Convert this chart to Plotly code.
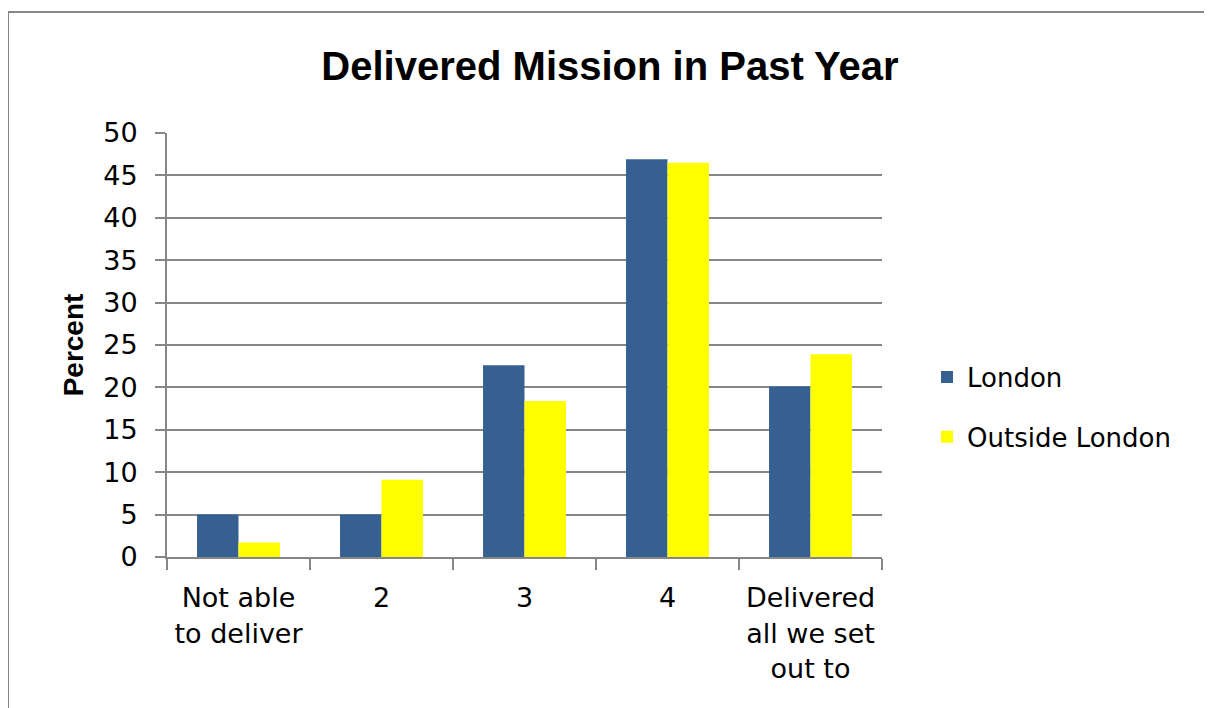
import plotly.graph_objects as go

categories = ["Not able<br>to deliver", "2", "3", "4", "Delivered<br>all we set<br>out to"]
london = [5.0, 5.0, 22.6, 46.9, 20.1]
outside_london = [1.7, 9.1, 18.4, 46.5, 23.9]
y_ticks = [0, 5, 10, 15, 20, 25, 30, 35, 40, 45, 50]

GRID = "#868686"
TICK_FONT = dict(family="DejaVu Sans", size=27, color="#000000")

fig = go.Figure()
fig.add_trace(go.Bar(name="London", x=categories, y=london,
                     marker=dict(color="#376092", line=dict(width=0)),
                     legendgroup="a"))
fig.add_trace(go.Bar(name="Outside London", x=categories, y=outside_london,
                     marker=dict(color="#FFFF00", line=dict(width=0)),
                     legendgroup="b"))

# page body adds an 8px offset, so positions are in figure coordinates
OFF = 8
PL, PR, PT, PB = 167 - OFF, 882 - OFF, 133 - OFF, 557 - OFF
W, H = 1212, 708

def px_x(p):
    return (p - OFF - PL) / (PR - PL)

def px_y(p):
    return (PB - (p - OFF)) / (PB - PT)

fig.update_layout(
    width=W, height=H, autosize=False,
    margin=dict(l=PL, r=W - PR, t=PT, b=H - PB, pad=0),
    paper_bgcolor="white", plot_bgcolor="white",
    barmode="group", bargap=0.42, bargroupgap=0,
    title=dict(text="<b>Delivered Mission in Past Year</b>",
               font=dict(family="Liberation Sans", size=40, color="#000000"),
               x=(610 - OFF) / W, xref="container", xanchor="center",
               y=1 - (66 - OFF) / H, yref="container", yanchor="middle"),
    legend=dict(x=px_x(927), y=px_y(407), xanchor="left", yanchor="middle",
                font=dict(family="DejaVu Sans", size=26, color="#000000"),
                tracegroupgap=23, traceorder="grouped",
                bgcolor="rgba(0,0,0,0)", borderwidth=0),
    xaxis=dict(type="category", tickson="boundaries", ticks="outside",
               ticklen=11, tickwidth=2, tickcolor=GRID,
               showline=True, linecolor=GRID, linewidth=2,
               showgrid=False, tickfont=TICK_FONT, ticklabelstandoff=16),
    yaxis=dict(range=[0, 50], tickvals=y_ticks, ticks="outside",
               ticklen=10, tickwidth=2, tickcolor=GRID,
               showline=True, linecolor=GRID, linewidth=2,
               showgrid=True, gridcolor=GRID, gridwidth=1.5,
               zeroline=False, tickfont=TICK_FONT, ticklabelstandoff=12,
               title=dict(text="<b>Percent</b>", standoff=11,
                          font=dict(family="Liberation Sans", size=28, color="#000000"))),
    shapes=[
        dict(type="line", xref="paper", yref="paper",
             x0=px_x(8), x1=px_x(W + 40), y0=px_y(12), y1=px_y(12),
             line=dict(color=GRID, width=2)),
        dict(type="line", xref="paper", yref="paper",
             x0=px_x(8), x1=px_x(8), y0=px_y(12), y1=px_y(H + 40),
             line=dict(color=GRID, width=2)),
    ],
)

fig.write_html("out.html")
